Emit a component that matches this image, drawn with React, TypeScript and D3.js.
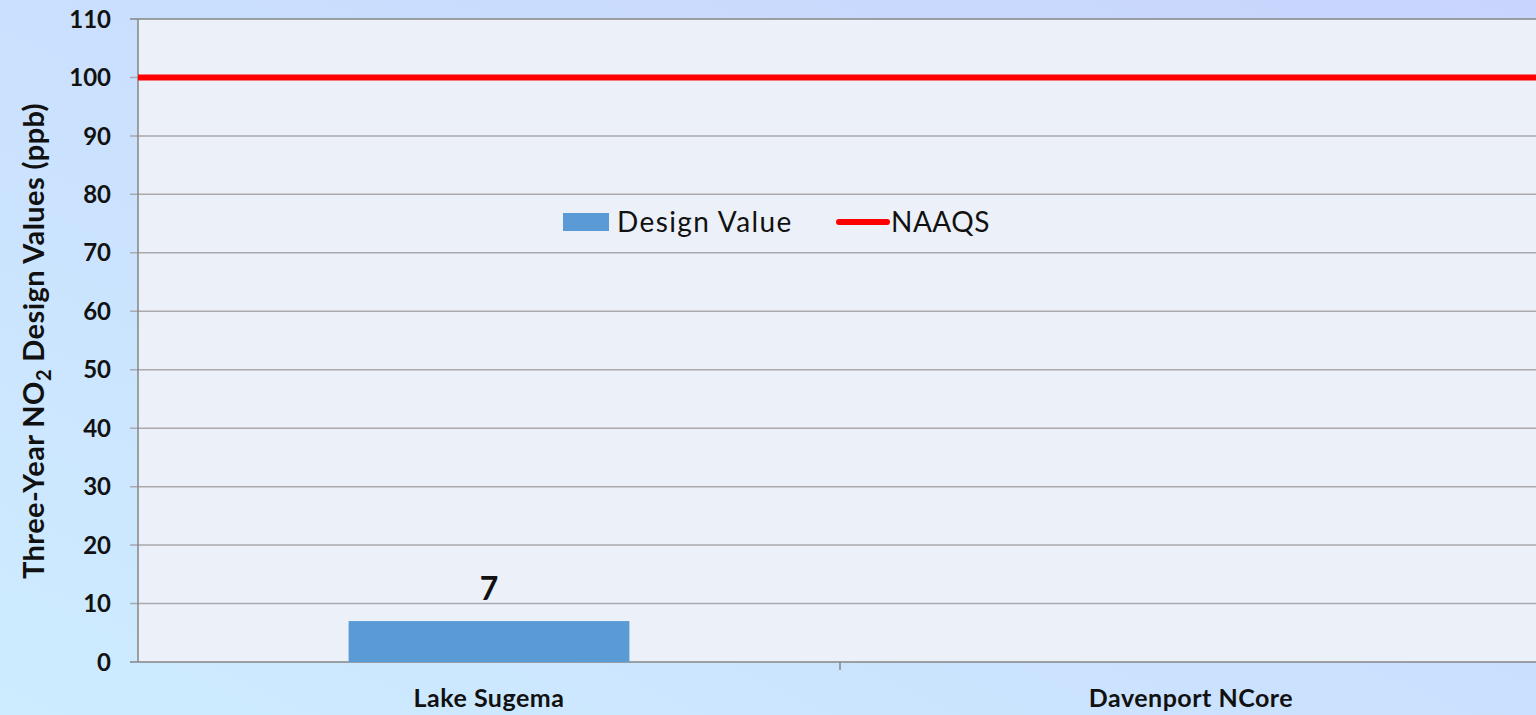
import React from 'react';
import { scaleBand, scaleLinear, range } from 'd3';

const categories = ['Lake Sugema', 'Davenport NCore'];
const designValues: (number | null)[] = [7, null];
const naaqs = 100;
const yTicks = range(0, 111, 10);

const W = 1536;
const H = 715;
const margin = { top: 19, right: -6, bottom: 53, left: 138 };
const font = 'Lato, Carlito, "Open Sans", sans-serif';

export default function App() {
  const x = scaleBand<string>()
    .domain(categories)
    .range([margin.left, W - margin.right])
    .paddingInner(0)
    .paddingOuter(0);
  const y = scaleLinear().domain([0, 110]).range([H - margin.bottom, margin.top]);
  const barW = x.bandwidth() * 0.4;
  const x0 = margin.left;
  const x1 = W - margin.right;

  return (
    <svg width={W} height={H} style={{ position: 'absolute', left: 0, top: 0 }} fontFamily={font}>
      <defs>
        <linearGradient id="bg" x1="1" y1="0" x2="0" y2="1">
          <stop offset="0" stopColor="#c8d4fd" />
          <stop offset="1" stopColor="#cdecff" />
        </linearGradient>
      </defs>
      <rect width={W} height={H} fill="url(#bg)" />
      {/* plot area */}
      <rect x={x0} y={y(110)} width={x1 - x0} height={y(0) - y(110)} fill="#ecf0f8" />
      {yTicks.map((t) => (
        <g key={t}>
          <line x1={x0 - 8} x2={x1} y1={y(t)} y2={y(t)} stroke={t === 110 || t === 0 ? '#868686' : '#a9a9ae'} strokeWidth={1.5} />
          <text x={111} y={y(t)} dy="0.36em" textAnchor="end" fontSize={24} fontWeight="bold" fill="#111">{t}</text>
        </g>
      ))}
      <line x1={x0} x2={x0} y1={y(110)} y2={y(0)} stroke="#868686" strokeWidth={1.5} />
      {categories.map((c, i) => (
        <line key={c} x1={x(c)!} x2={x(c)!} y1={y(0)} y2={y(0) + 8} stroke="#868686" strokeWidth={1.5} display={i === 0 ? 'none' : undefined} />
      ))}
      {/* bars */}
      {categories.map((c, i) => {
        const v = designValues[i];
        if (v == null) return null;
        const cx = x(c)! + x.bandwidth() / 2;
        return (
          <g key={c}>
            <rect x={cx - barW / 2} y={y(v)} width={barW} height={y(0) - y(v)} fill="#5b9bd5" />
            <text x={cx} y={y(v) - 21} textAnchor="middle" fontSize={32} fontWeight="bold" fill="#111">{v}</text>
          </g>
        );
      })}
      {/* NAAQS line */}
      <line x1={x0} x2={x1} y1={y(naaqs)} y2={y(naaqs)} stroke="#ff0000" strokeWidth={6} />
      {/* category labels */}
      {categories.map((c) => (
        <text key={c} x={x(c)! + x.bandwidth() / 2} y={707} textAnchor="middle" fontSize={25} fontWeight="bold" letterSpacing={0.5} fill="#111">{c}</text>
      ))}
      {/* y axis title */}
      <text transform="translate(44,341) rotate(-90)" textAnchor="middle" fontSize={29} fontWeight="bold" letterSpacing={0.4} fill="#111">
        Three-Year NO<tspan fontSize={20} dy={7}>2</tspan><tspan dy={-7}> Design Values (ppb)</tspan>
      </text>
      {/* legend */}
      <rect x={563} y={213} width={46} height={18} fill="#5b9bd5" />
      <text x={617} y={232} fontSize={28} letterSpacing={1.4} fill="#111">Design Value</text>
      <line x1={839} x2={887} y1={222} y2={222} stroke="#ff0000" strokeWidth={6} strokeLinecap="round" />
      <text x={891} y={232} fontSize={28} letterSpacing={0.5} fill="#111">NAAQS</text>
    </svg>
  );
}
